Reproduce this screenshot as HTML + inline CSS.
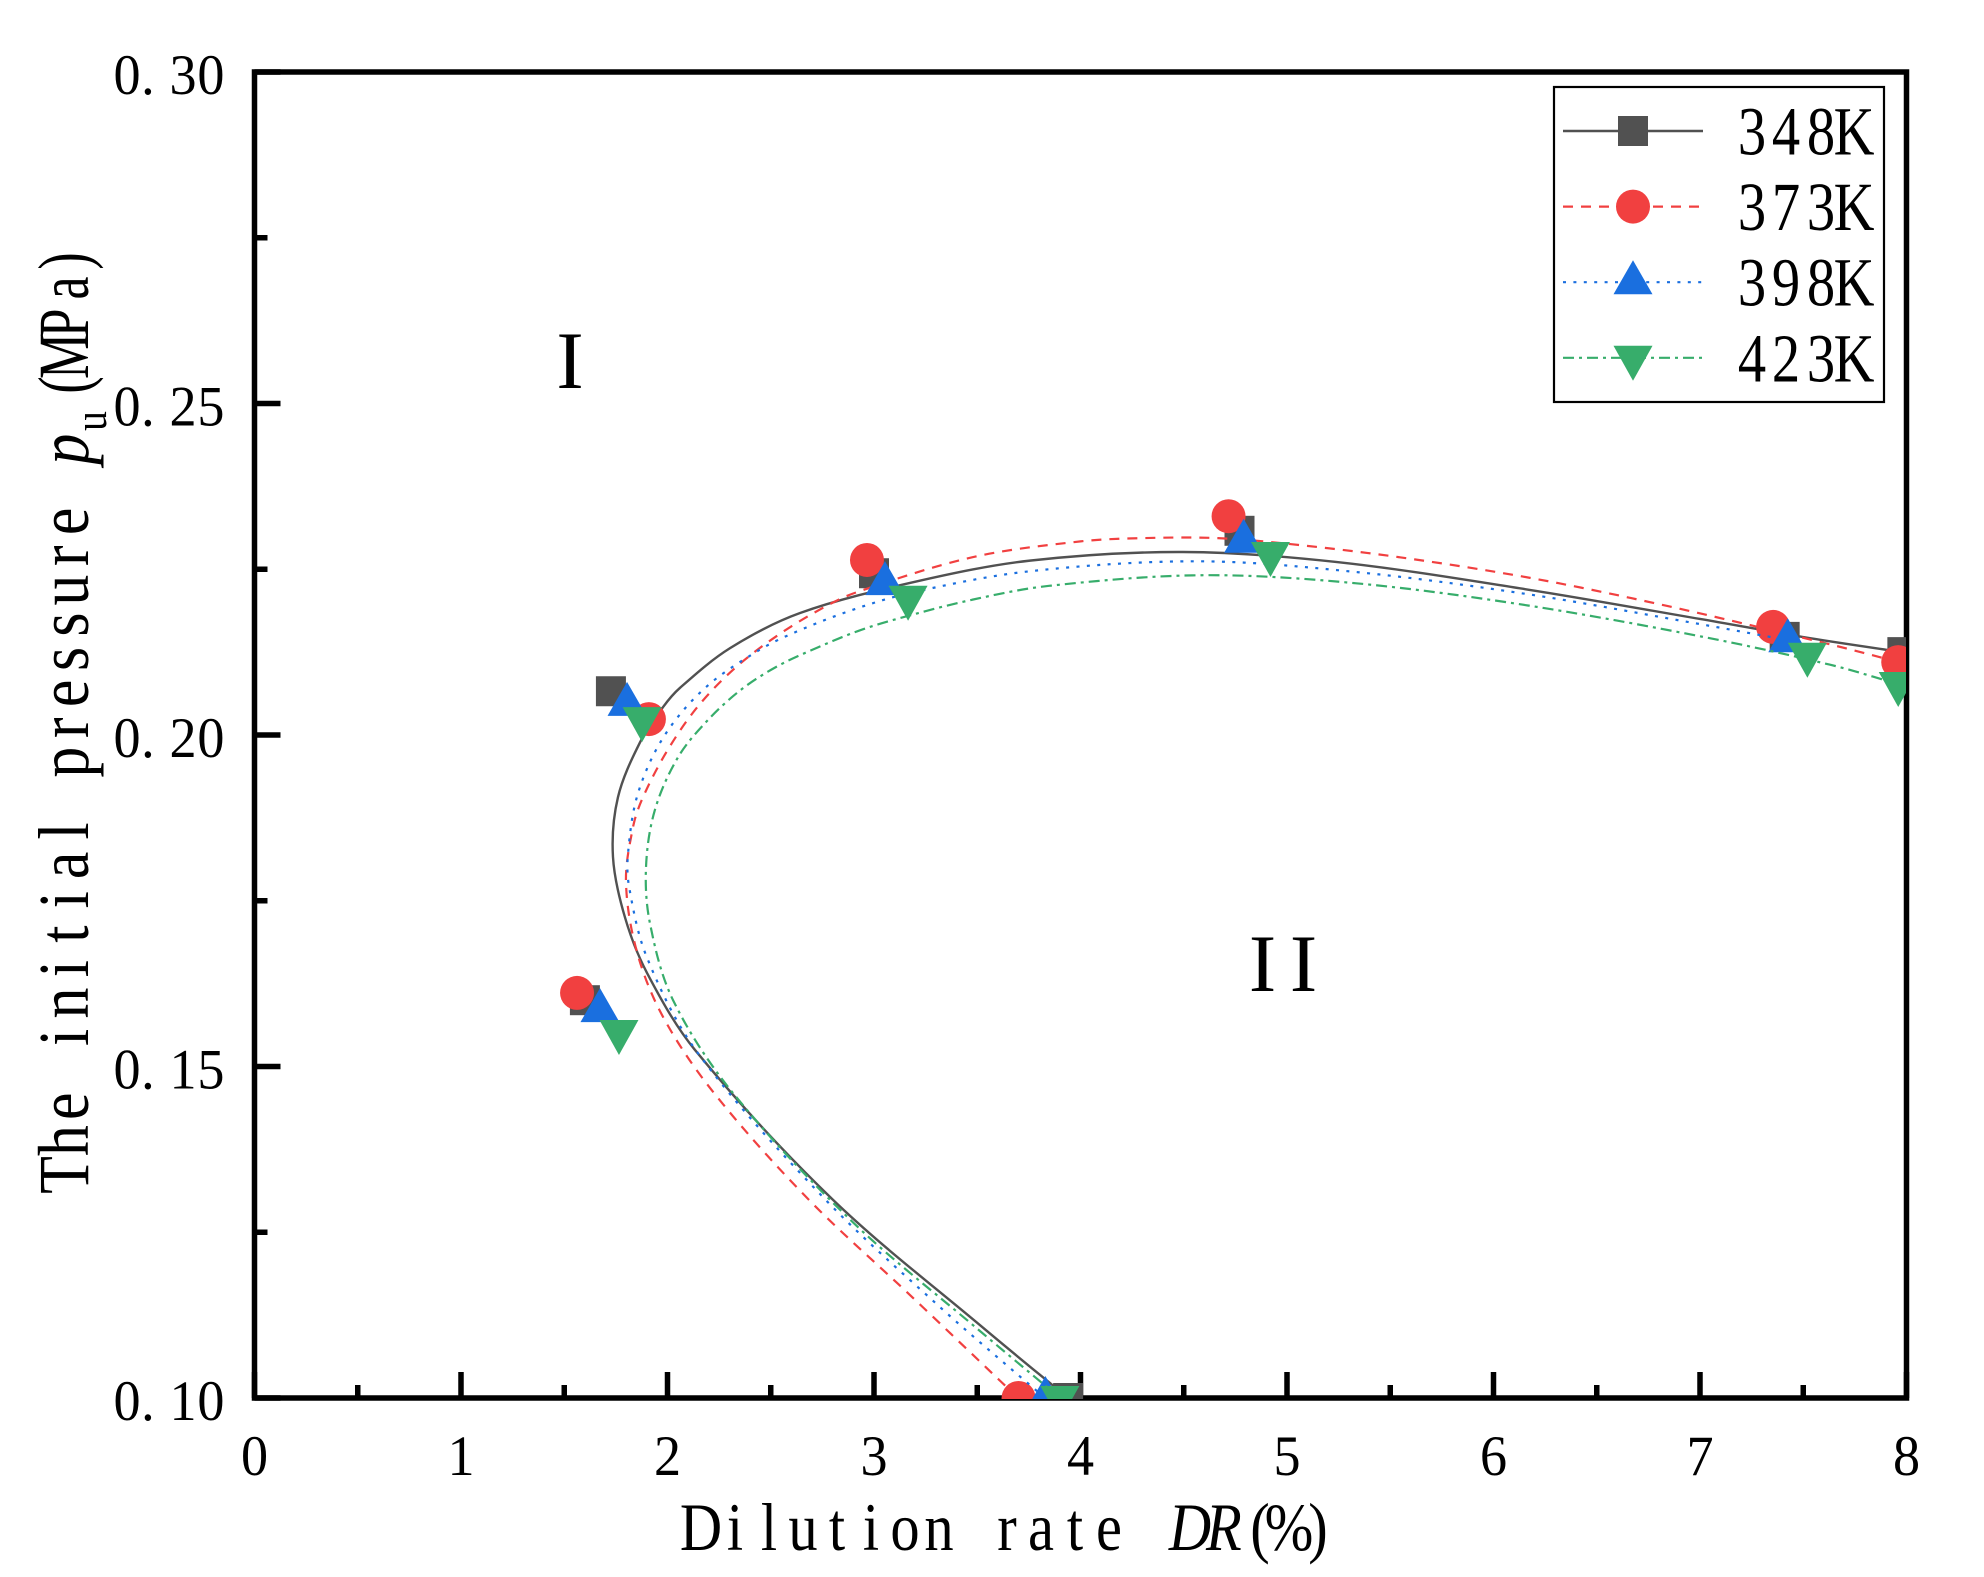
<!DOCTYPE html>
<html lang="en">
<head>
<meta charset="utf-8">
<title>The initial pressure vs dilution rate</title>
<style>
html,body{margin:0;padding:0;background:#fff;width:1984px;height:1577px;overflow:hidden}
svg{display:block}
text{font-family:"Liberation Serif","Noto Serif CJK SC",serif;fill:#000;text-anchor:middle}
</style>
</head>
<body>
<svg id="chart" xmlns="http://www.w3.org/2000/svg" width="1984" height="1577" viewBox="0 0 1984 1577">
  <defs>
    <clipPath id="plot-clip"><rect x="200" y="40" width="1706" height="1359"></rect></clipPath>
  </defs>
  <rect x="0" y="0" width="1984" height="1577" fill="#fff"></rect>
  <g id="x-ticks"></g>
  <g id="y-ticks"></g>
  <rect x="254.5" y="72" width="1652" height="1326" fill="none" stroke="#000" stroke-width="5.5"></rect>
  <g id="series" clip-path="url(#plot-clip)"></g>

  <text transform="translate(701,1550) scale(.86,1)" font-size="68" x="0 39.5 79.1 118.6 158.1 197.7 237.2 276.7 316.3 355.8 395.3 434.9 474.4 514">Dilution rate <tspan font-style="italic" x="568.6 608">DR</tspan><tspan x="650 683.7 717.4">(%)</tspan></text>

  <text transform="translate(88,1175) rotate(-90) scale(.86,1)" font-size="72" x="0 40 80 120 160 200 240 280 320 360 400 440 480 520 560 600 640 680 720 760 800">The initial pressure <tspan font-style="italic" x="844">p</tspan><tspan font-size="46" x="876.7" dy="18">u</tspan></text>
  <text transform="translate(88,385) rotate(-90) scale(.72,1)" font-size="72" x="0 40.3 86.1 134.7 172.2">(MPa)</text>

  <text x="570" y="388" font-size="82">I</text>
  <text x="1262.5 1303.5" y="991" font-size="82">II</text>

  <g id="legend">
    <rect x="1554" y="87" width="330" height="315" fill="#fff" stroke="#000" stroke-width="2.2"></rect>
  </g>
</svg>

<script>
const xTickValues = [0, 1, 2, 3, 4, 5, 6, 7, 8];
const xMinorValues = [0.5, 1.5, 2.5, 3.5, 4.5, 5.5, 6.5, 7.5];
const xTickLabels = ["0", "1", "2", "3", "4", "5", "6", "7", "8"];
const yTickValues = [0.10, 0.15, 0.20, 0.25, 0.30];
const yMinorValues = [0.125, 0.175, 0.225, 0.275];
const yTickLabels = ["0.10", "0.15", "0.20", "0.25", "0.30"];
const seriesNames = ["348K", "373K", "398K", "423K"];

const markerX348 = [3.94, 1.60, 1.726, 3.00, 4.77, 7.41, 7.98];
const markerY348 = [0.100, 0.1600, 0.2066, 0.2244, 0.2308, 0.2148, 0.2125];
const markerX373 = [3.70, 1.562, 1.91, 2.966, 4.717, 7.354, 7.96];
const markerY373 = [0.100, 0.1611, 0.2024, 0.2264, 0.2330, 0.2163, 0.2110];
const markerX398 = [3.83, 1.673, 1.804, 3.053, 4.79, 7.425];
const markerY398 = [0.100, 0.1585, 0.2047, 0.2229, 0.2293, 0.2143];
const markerX423 = [3.90, 1.765, 1.877, 3.165, 4.92, 7.52, 7.96];
const markerY423 = [0.100, 0.1552, 0.2024, 0.2207, 0.2273, 0.2121, 0.2077];

const fitX348 = [3.94,3.528,2.801,2.133,1.901,1.794,1.736,1.760,1.867,1.978,2.060,2.303,2.642,3.198,3.755,4.496,5.237,6.153,7.000,7.533,8.0];
const fitY348 = [.1000,.1106,.1299,.1525,.1641,.1725,.1816,.1906,.1989,.2042,.2071,.2131,.2184,.2231,.2263,.2276,.2261,.2220,.2175,.2146,.2124];
const fitX373 = [3.698,3.189,2.675,2.220,1.978,1.852,1.799,1.833,1.881,2.0,2.147,2.327,2.532,2.754,2.913,3.475,4.0,4.308,4.661,5.015,5.547,6.177,6.792,7.548,7.964];
const fitY373 = [.1000,.1151,.1302,.1462,.1575,.1673,.1777,.1861,.1906,.1977,.2043,.2101,.2150,.2192,.2215,.2268,.2292,.2297,.2297,.2288,.2268,.2237,.2198,.2143,.2110];
const fitX398 = [3.828,3.320,2.753,2.143,1.901,1.814,1.809,1.857,1.983,2.182,2.438,2.618,2.908,3.198,3.755,4.569,5.329,6.153,6.951,7.426];
const fitY398 = [.1000,.1137,.1303,.1522,.1664,.1771,.1822,.1912,.1998,.2071,.2127,.2155,.2190,.2216,.2247,.2262,.2246,.2213,.2170,.2143];
const fitX423 = [3.901,3.479,2.898,2.317,2.027,1.915,1.896,1.939,2.052,2.197,2.359,2.534,2.727,2.924,3.11,3.475,3.848,4.589,5.329,6.153,7.015,7.630,7.959];
const fitY423 = [.1000,.1110,.1265,.1460,.1600,.1716,.1801,.1887,.1967,.2023,.2069,.2104,.2132,.2157,.2175,.2204,.2225,.2241,.2229,.2196,.2148,.2106,.2077];

const NS = "http://www.w3.org/2000/svg";
const X0 = 254.5, X_PER_UNIT = 206.5, Y0 = 1398, Y_PER_UNIT = 6630;
function xAxis(v) { return X0 + v * X_PER_UNIT; }
function yAxis(v) { return Y0 - (v - 0.10) * Y_PER_UNIT; }
function make(tag, attrs, parent) {
  const el = document.createElementNS(NS, tag);
  for (const k in attrs) el.setAttribute(k, attrs[k]);
  parent.appendChild(el);
  return el;
}

const xTicksG = document.getElementById("x-ticks");
const yTicksG = document.getElementById("y-ticks");

xTickValues.forEach(function (v, i) {
  const t = make("line", {x1: xAxis(v), x2: xAxis(v), y1: Y0, y2: Y0 - 26, stroke: "#000", "stroke-width": 5.5}, xTicksG);
  
  
  const lb = make("text", {x: 0, y: 0, "font-size": 57, transform: "translate(" + xAxis(v) + ",1475) scale(.95,1)"}, xTicksG);
  lb.textContent = xTickLabels[i];
  
  
});
xMinorValues.forEach(function (v) {
  const t = make("line", {x1: xAxis(v), x2: xAxis(v), y1: Y0, y2: Y0 - 13, stroke: "#000", "stroke-width": 5.5}, xTicksG);
  
  
});
yTickValues.forEach(function (v, i) {
  const t = make("line", {x1: X0, x2: X0 + 26, y1: yAxis(v), y2: yAxis(v), stroke: "#000", "stroke-width": 5.5}, yTicksG);
  
  
  const lb = make("text", {x: "0 22 59 88.4", y: 0, "font-size": 57, transform: "translate(127," + (yAxis(v) + 22) + ") scale(.95,1)"}, yTicksG);
  lb.textContent = yTickLabels[i];
  
  
});
yMinorValues.forEach(function (v) {
  const t = make("line", {x1: X0, x2: X0 + 13, y1: yAxis(v), y2: yAxis(v), stroke: "#000", "stroke-width": 5.5}, yTicksG);
  
  
});

function splinePath(xs, ys) {
  const p = xs.map(function (x, i) { return [xAxis(x), yAxis(ys[i])]; });
  const tangents = p.map(function (pt, i) {
    const a = p[Math.max(i - 1, 0)], c = p[Math.min(i + 1, p.length - 1)];
    const dx = c[0] - a[0], dy = c[1] - a[1], len = Math.hypot(dx, dy) || 1;
    return [dx / len, dy / len];
  });
  let d = "M" + p[0][0].toFixed(2) + " " + p[0][1].toFixed(2);
  for (let i = 0; i < p.length - 1; i++) {
    const b = p[i], c = p[i + 1], h = Math.hypot(c[0] - b[0], c[1] - b[1]) / 3;
    const c1x = b[0] + tangents[i][0] * h, c1y = b[1] + tangents[i][1] * h;
    const c2x = c[0] - tangents[i + 1][0] * h, c2y = c[1] - tangents[i + 1][1] * h;
    d += "C" + c1x.toFixed(2) + " " + c1y.toFixed(2) + " " + c2x.toFixed(2) + " " + c2y.toFixed(2) + " " + c[0].toFixed(2) + " " + c[1].toFixed(2);
  }
  return d;
}

function drawMarker(kind, cx, cy, color, parent) {
  if (kind === "square") return make("rect", {x: cx - 15, y: cy - 15, width: 30, height: 30, fill: color}, parent);
  if (kind === "circle") return make("circle", {cx: cx, cy: cy, r: 17, fill: color}, parent);
  if (kind === "up") return make("polygon", {points: cx + "," + (cy - 22) + " " + (cx + 19.5) + "," + (cy + 12) + " " + (cx - 19.5) + "," + (cy + 12), fill: color}, parent);
  return make("polygon", {points: (cx - 19.5) + "," + (cy - 12) + " " + (cx + 19.5) + "," + (cy - 12) + " " + cx + "," + (cy + 23), fill: color}, parent);
}

const seriesG = document.getElementById("series");
const legendG = document.getElementById("legend");
const looks = [
  {color: "#515151", dash: "", kind: "square", width: 2.4},
  {color: "#F14040", dash: "10 8", kind: "circle", width: 2.2},
  {color: "#1A6FDF", dash: "3 7.4", kind: "up", width: 2.2},
  {color: "#37AD6B", dash: "11 5 3 5", kind: "down", width: 2.2}
];
const fitXs = [fitX348, fitX373, fitX398, fitX423];
const fitYs = [fitY348, fitY373, fitY398, fitY423];
const markXs = [markerX348, markerX373, markerX398, markerX423];
const markYs = [markerY348, markerY373, markerY398, markerY423];

seriesNames.forEach(function (name, s) {
  const look = looks[s];
  const g = make("g", {}, seriesG);
  
  
  const line = make("path", {d: splinePath(fitXs[s], fitYs[s]), fill: "none", stroke: look.color, "stroke-width": look.width, "stroke-dasharray": look.dash}, g);
  
  
  markXs[s].forEach(function (x, i) {
    const m = drawMarker(look.kind, xAxis(x), yAxis(markYs[s][i]), look.color, g);
    
    
  });

  const ly = 131 + s * 75.6;
  const entry = make("g", {}, legendG);
  
  
  const ll = make("line", {x1: 1563, x2: 1703, y1: ly, y2: ly, stroke: look.color, "stroke-width": look.width, "stroke-dasharray": look.dash}, entry);
  
  
  const lm = drawMarker(look.kind, 1633, ly, look.color, entry);
  
  
  const lt = make("text", {x: "0 41.5 84.2 124.4", y: 0, "font-size": 69, transform: "translate(1752," + (ly + 23.5) + ") scale(.82,1)"}, entry);
  lt.textContent = name;
  
  
});
</script>
</body>
</html>
